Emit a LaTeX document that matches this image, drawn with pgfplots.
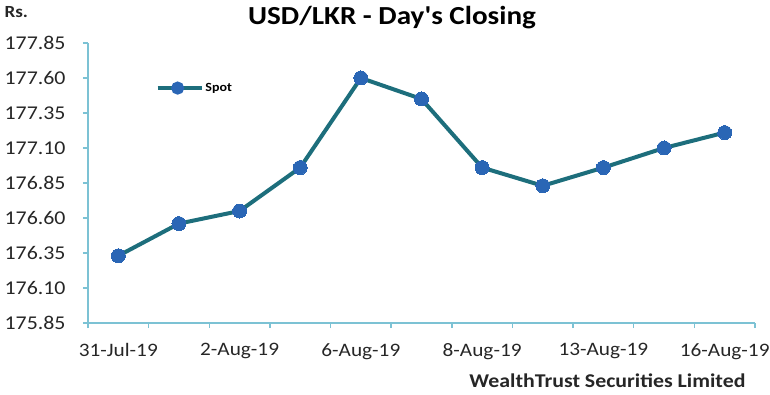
\documentclass[border=0pt]{standalone}
\usepackage{pgfplots}
\pgfplotsset{compat=1.18}
\usepackage{fontspec}
\setmainfont[FakeStretch=1.12]{Carlito}
\newfontfamily\titlefont[FakeStretch=1.12]{Carlito}
\definecolor{linec}{HTML}{1D6E7C}
\definecolor{markc}{HTML}{2A66B5}
\definecolor{axc}{HTML}{7CC2D4}
\definecolor{txt}{HTML}{262626}
\begin{document}
\begin{tikzpicture}
\path[use as bounding box] (0,0) rectangle (770pt,394pt);
\begin{axis}[
  at={(88pt,71pt)}, anchor=south west,
  scale only axis, width=667pt, height=280pt,
  xmin=-0.5, xmax=10.5, ymin=175.85, ymax=177.85,
  axis lines=left, axis line style={-, color=axc, line width=1.6pt},
  xtick={0,2,4,6,8,10},
  xticklabels={31-Jul-19,2-Aug-19,6-Aug-19,8-Aug-19,13-Aug-19,16-Aug-19},
  minor xtick={-0.5,0.5,1.5,2.5,3.5,4.5,5.5,6.5,7.5,8.5,9.5,10.5},
  major x tick style={draw=none},
  minor x tick style={color=axc, line width=1.4pt},
  minor tick length=5pt,
  ytick={175.85,176.10,176.35,176.60,176.85,177.10,177.35,177.60,177.85},
  major y tick style={color=axc, line width=1.4pt},
  major tick length=5pt,
  tick align=outside,
  /pgf/number format/fixed, /pgf/number format/fixed zerofill, /pgf/number format/precision=2, /pgf/number format/assume math mode=true,
  xticklabel style={font=\fontsize{19}{21}\selectfont, text=txt, yshift=-12pt},
  yticklabel style={font=\fontsize{19.5}{21}\selectfont, text=txt, xshift=-14pt},
  legend style={at={(0.097,0.839)}, anchor=west, draw=none, fill=none, font=\bfseries\fontsize{12.5}{14}\selectfont},
  legend image code/.code={\draw[line width=3.5pt, color=linec] (0pt,0pt) -- (44pt,0pt); \fill[markc] (20pt,0pt) circle (4.5pt);},
  clip=false,
]
\addplot[color=linec, line width=4pt, mark=*, mark size=7pt, mark options={fill=markc, draw=markc, line width=0pt}]
  coordinates {(0,176.33) (1,176.56) (2,176.65) (3,176.96) (4,177.60) (5,177.45) (6,176.96) (7,176.83) (8,176.96) (9,177.10) (10,177.21)};
\addlegendentry{Spot}
\end{axis}
\node[font=\titlefont\bfseries\fontsize{26}{30}\selectfont, text=black] at (392pt,376pt) {USD/LKR - Day's Closing};
\node[font=\bfseries\fontsize{17}{19}\selectfont, text=txt, anchor=west] at (1pt,382pt) {Rs.};
\node[font=\bfseries\fontsize{19.5}{22}\selectfont, text=txt, anchor=east] at (749pt,13pt) {WealthTrust Securities Limited};
\end{tikzpicture}
\end{document}
